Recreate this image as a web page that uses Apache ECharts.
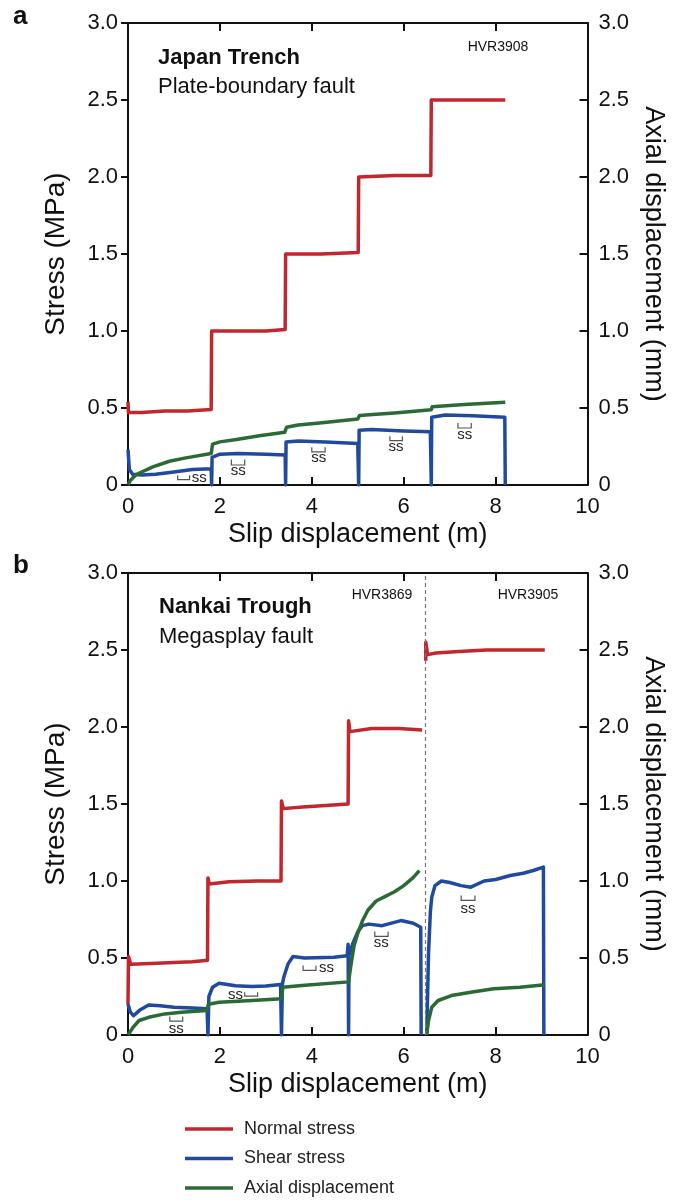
<!DOCTYPE html>
<html>
<head>
<meta charset="utf-8">
<script src="https://cdn.jsdelivr.net/npm/echarts@6/dist/echarts.min.js"></script>
<style>
  html, body { margin: 0; padding: 0; background: #fff; }
  #chart { width: 675px; height: 1200px; }
</style>
</head>
<body>
<div id="chart"></div>
<script>
// ---- Tick values ----
const X_TICKS = [0, 2, 4, 6, 8, 10];
const Y_TICKS = [0, 0.5, 1.0, 1.5, 2.0, 2.5, 3.0];

// ---- (a) Japan Trench, HVR3908: [slip (m), value] ----
const normalStressA = [[0,0.54],[0.01,0.47],[0.3,0.47],[0.8,0.48],[1.3,0.48],[1.81,0.49],[1.82,1.0],[2.4,1.0],[3.0,1.0],[3.42,1.01],[3.43,1.5],[4.2,1.5],[5.01,1.51],[5.02,2.0],[5.8,2.01],[6.59,2.01],[6.6,2.5],[7.4,2.5],[8.21,2.5]];
const shearStressA = [[0,0.23],[0.03,0.1],[0.1,0.07],[0.3,0.065],[0.6,0.07],[1.0,0.085],[1.4,0.1],[1.81,0.105],[1.82,0],[1.83,0.18],[2.0,0.2],[2.4,0.205],[3.0,0.2],[3.42,0.195],[3.43,0],[3.44,0.28],[3.7,0.285],[4.3,0.28],[5.0,0.27],[5.02,0],[5.03,0.355],[5.3,0.36],[6.0,0.35],[6.58,0.345],[6.6,0],[6.61,0.44],[6.9,0.455],[7.5,0.45],[8.2,0.44],[8.21,0]];
const axialDispA = [[0,0],[0.05,0.03],[0.18,0.068],[0.54,0.118],[0.9,0.154],[1.26,0.176],[1.81,0.204],[1.84,0.265],[2.0,0.28],[2.36,0.295],[2.86,0.32],[3.41,0.342],[3.45,0.375],[3.7,0.39],[4.17,0.403],[5.0,0.429],[5.04,0.452],[5.4,0.46],[5.8,0.468],[6.6,0.489],[6.62,0.508],[7.32,0.522],[8.21,0.537]];
// steady-state windows: [x1, x2, yBottom, yTop, labelX, labelY]
const steadyStateA = [[1.08,1.34,0.035,0.063,1.55,0.045],[2.25,2.54,0.13,0.165,2.40,0.09],[4.0,4.29,0.215,0.245,4.15,0.176],[5.7,5.97,0.288,0.316,5.83,0.248],[7.18,7.47,0.37,0.403,7.33,0.327]];

// ---- (b) Nankai Trough, HVR3869 ----
const normalStressB1 = [[0,0.2],[0.01,0.51],[0.06,0.46],[0.5,0.465],[1.0,0.47],[1.4,0.475],[1.73,0.485],[1.74,1.02],[1.77,0.98],[2.2,0.995],[2.8,1.0],[3.33,1.0],[3.34,1.52],[3.38,1.47],[3.8,1.48],[4.3,1.49],[4.79,1.5],[4.8,2.04],[4.83,1.97],[5.3,1.99],[5.9,1.99],[6.4,1.98]];
const shearStressB1 = [[0,0.2],[0.05,0.15],[0.12,0.125],[0.25,0.16],[0.45,0.195],[0.7,0.19],[1.0,0.18],[1.4,0.175],[1.72,0.17],[1.74,0],[1.76,0.25],[1.84,0.31],[1.98,0.336],[2.34,0.32],[2.7,0.315],[3.0,0.318],[3.32,0.328],[3.34,0],[3.36,0.33],[3.39,0.375],[3.48,0.46],[3.59,0.51],[3.84,0.5],[4.48,0.505],[4.77,0.515],[4.79,0.59],[4.8,0],[4.81,0.52],[4.9,0.6],[5.0,0.67],[5.1,0.71],[5.24,0.72],[5.53,0.71],[5.94,0.743],[6.21,0.726],[6.37,0.7],[6.38,0]];
const axialDispB1 = [[0,0],[0.11,0.05],[0.24,0.094],[0.45,0.115],[0.8,0.137],[1.16,0.148],[1.72,0.159],[1.75,0.2],[1.98,0.213],[2.7,0.224],[3.34,0.235],[3.37,0.31],[3.78,0.321],[4.8,0.345],[4.86,0.47],[4.92,0.58],[5.0,0.66],[5.1,0.74],[5.22,0.81],[5.4,0.87],[5.6,0.9],[5.8,0.93],[6.0,0.97],[6.2,1.02],[6.34,1.068]];

// ---- (b) Nankai Trough, HVR3905 ----
const normalStressB2 = [[6.48,2.43],[6.48,2.55],[6.52,2.47],[6.7,2.48],[7.2,2.49],[7.8,2.5],[8.5,2.5],[9.07,2.5]];
const shearStressB2 = [[6.5,0],[6.54,0.53],[6.58,0.8],[6.61,0.895],[6.68,0.97],[6.82,1.0],[7.0,0.99],[7.25,0.97],[7.46,0.96],[7.75,1.0],[8.0,1.01],[8.32,1.036],[8.6,1.05],[8.82,1.068],[9.04,1.09],[9.05,0]];
const axialDispB2 = [[6.5,0],[6.54,0.094],[6.61,0.18],[6.75,0.224],[7.04,0.256],[7.46,0.278],[7.96,0.3],[8.53,0.31],[9.07,0.326]];
const steadyStateB = [[0.91,1.19,0.09,0.12,1.05,0.04],[2.54,2.82,0.252,0.278,2.34,0.262],[3.81,4.09,0.419,0.451,4.32,0.436],[5.37,5.66,0.64,0.672,5.51,0.596],[7.25,7.55,0.874,0.906,7.40,0.82]];
const experimentBoundary = 6.47;

const FONT = '"Liberation Sans", Arial, Helvetica, sans-serif';
const RED = '#c3262d', BLUE = '#1f4a9e', GREEN = '#2a6a34';
const LW = 3.5;

const grids = [
  { left: 128, top: 23, width: 466, height: 462 },
  { left: 128, top: 573, width: 466, height: 462 }
];

function yFmt(v) { return v === 0 ? '0' : v.toFixed(1); }

const xAxes = [], yAxes = [];
grids.forEach((g, i) => {
  const axisLine = { show: true, onZero: false, lineStyle: { color: '#111', width: 2 } };
  const tickStyle = { color: '#111', width: 2 };
  xAxes.push({
    gridIndex: i, type: 'value', position: 'bottom',
    min: X_TICKS[0], max: X_TICKS[X_TICKS.length - 1], interval: 2,
    axisLine, splitLine: { show: false },
    axisTick: { inside: true, length: 8, lineStyle: tickStyle },
    axisLabel: { fontFamily: FONT, fontSize: 22, color: '#111', margin: 11 },
    name: 'Slip displacement (m)', nameLocation: 'middle', nameGap: 36,
    nameTextStyle: { fontFamily: FONT, fontSize: 27, color: '#111' }
  });
  xAxes.push({
    gridIndex: i, type: 'value', position: 'top',
    min: X_TICKS[0], max: X_TICKS[X_TICKS.length - 1], interval: 2,
    axisLine, splitLine: { show: false },
    axisTick: { inside: true, length: 8, lineStyle: tickStyle },
    axisLabel: { show: false }
  });
  yAxes.push({
    gridIndex: i, type: 'value', position: 'left',
    min: Y_TICKS[0], max: Y_TICKS[Y_TICKS.length - 1], interval: 0.5,
    axisLine, splitLine: { show: false },
    axisTick: { inside: false, length: 7, lineStyle: tickStyle },
    axisLabel: { fontFamily: FONT, fontSize: 22, color: '#111', margin: 10, formatter: yFmt },
    name: 'Stress (MPa)', nameLocation: 'middle', nameGap: 58, nameRotate: 90,
    nameTextStyle: { fontFamily: FONT, fontSize: 28, color: '#111' }
  });
  yAxes.push({
    gridIndex: i, type: 'value', position: 'right',
    min: Y_TICKS[0], max: Y_TICKS[Y_TICKS.length - 1], interval: 0.5,
    axisLine, splitLine: { show: false },
    axisTick: { inside: true, length: 8, lineStyle: tickStyle },
    axisLabel: { fontFamily: FONT, fontSize: 22, color: '#111', margin: 11, formatter: yFmt },
    name: 'Axial displacement (mm)', nameLocation: 'middle', nameGap: 52, nameRotate: -90,
    nameTextStyle: { fontFamily: FONT, fontSize: 27, color: '#111' }
  });
});

function trace(name, data, color, xi, yi, extra) {
  return Object.assign({
    name, type: 'line', data, xAxisIndex: xi, yAxisIndex: yi,
    showSymbol: false, symbol: 'none', animation: false,
    lineStyle: { color, width: LW, join: 'round' }, itemStyle: { color },
    emphasis: { disabled: true }
  }, extra || {});
}

function steadyStateSeries(data, xi, yi) {
  return {
    type: 'custom', xAxisIndex: xi, yAxisIndex: yi, data, z: 5, silent: true,
    encode: { x: [0, 1, 4], y: [2, 3, 5] },
    renderItem(params, api) {
      const p1 = api.coord([api.value(0), api.value(3)]);
      const p2 = api.coord([api.value(0), api.value(2)]);
      const p3 = api.coord([api.value(1), api.value(2)]);
      const p4 = api.coord([api.value(1), api.value(3)]);
      const t = api.coord([api.value(4), api.value(5)]);
      return {
        type: 'group', children: [
          { type: 'polyline', shape: { points: [p1, p2, p3, p4] },
            style: { stroke: '#555', fill: null, lineWidth: 1.2 } },
          { type: 'text', x: t[0], y: t[1],
            style: { text: 'ss', font: '15px ' + FONT, fill: '#222', align: 'center', verticalAlign: 'middle' } }
        ]
      };
    }
  };
}

const series = [
  trace('Normal stress', normalStressA, RED, 0, 0),
  trace('Shear stress', shearStressA, BLUE, 0, 0),
  trace('Axial displacement', axialDispA, GREEN, 0, 1),
  steadyStateSeries(steadyStateA, 0, 0),

  trace('Normal stress', normalStressB1, RED, 2, 2),
  trace('Shear stress', shearStressB1, BLUE, 2, 2),
  trace('Axial displacement', axialDispB1, GREEN, 2, 3),
  trace('Normal stress', normalStressB2, RED, 2, 2, {
    markLine: {
      silent: true, symbol: ['none', 'none'], animation: false,
      label: { show: false },
      lineStyle: { color: '#777', width: 1.2, type: [4, 3] },
      data: [{ xAxis: experimentBoundary }]
    }
  }),
  trace('Shear stress', shearStressB2, BLUE, 2, 2),
  trace('Axial displacement', axialDispB2, GREEN, 2, 3),
  steadyStateSeries(steadyStateB, 2, 2)
];

function txt(x, y, text, size, weight, align) {
  return { type: 'text', x, y, silent: true,
    style: { text, font: (weight || 'normal') + ' ' + size + 'px ' + FONT, fill: '#111',
             align: align || 'left', verticalAlign: 'middle' } };
}

const option = {
  backgroundColor: '#fff',
  animation: false,
  grid: grids,
  xAxis: xAxes,
  yAxis: yAxes,
  series,
  legend: {
    data: ['Normal stress', 'Shear stress', 'Axial displacement'],
    orient: 'vertical', left: 185, top: 1119, padding: 0,
    icon: 'rect', itemWidth: 48, itemHeight: 3.5, itemGap: 9.5,
    selectedMode: false,
    textStyle: { fontFamily: FONT, fontSize: 18, color: '#222', lineHeight: 20, padding: [0, 0, 0, 6] }
  },
  graphic: [
    txt(13, 17, 'a', 26, 'bold'),
    txt(158, 58, 'Japan Trench', 22, 'bold'),
    txt(158, 87, 'Plate-boundary fault', 22),
    txt(498, 47, 'HVR3908', 14, 'normal', 'center'),
    txt(13, 566, 'b', 26, 'bold'),
    txt(159, 607, 'Nankai Trough', 22, 'bold'),
    txt(159, 637, 'Megasplay fault', 22),
    txt(382, 595, 'HVR3869', 14, 'normal', 'center'),
    txt(528, 595, 'HVR3905', 14, 'normal', 'center')
  ]
};

const chart = echarts.init(document.getElementById('chart'), null, { renderer: 'canvas' });
chart.setOption(option);
</script>
</body>
</html>
